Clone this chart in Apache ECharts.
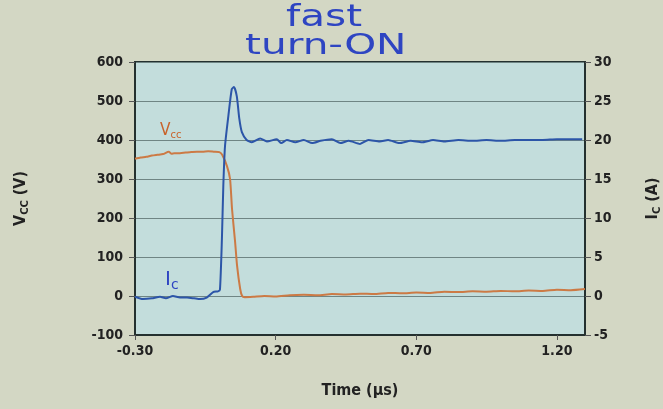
<!DOCTYPE html>
<html>
<head>
<meta charset="utf-8">
<script src="https://cdn.jsdelivr.net/npm/echarts@6/dist/echarts.min.js"></script>
<style>
  html, body { margin: 0; padding: 0; background: #d3d7c4; }
  #chart { width: 663px; height: 409px; }
</style>
</head>
<body>
<div id="chart"></div>
<script>
// time axis ticks (µs)
let timeTicks = [-0.30, 0.20, 0.70, 1.20];

// V_CC trace (left axis, volts)
let vccTime = [-0.30, -0.28, -0.26, -0.24, -0.22, -0.20, -0.18, -0.17, -0.16, -0.14, -0.12, -0.10, -0.08, -0.06, -0.04, -0.02, 0.00, 0.010,
    0.027, 0.038, 0.045, 0.056, 0.063, 0.074, 0.081, 0.09, 0.12, 0.16, 0.20, 0.25, 0.30, 0.35, 0.40, 0.45, 0.50, 0.55, 0.60,
    0.65, 0.70, 0.75, 0.80, 0.85, 0.90, 0.95, 1.00, 1.05, 1.10, 1.15, 1.20, 1.25, 1.30];
let vccVals = [352, 355, 357, 360, 362, 364, 370, 365, 366, 366, 368, 369, 370, 370, 371, 370, 369, 362,
    333, 300, 223, 138, 77, 18, 0, -3, -2, 0, -1, 2, 3, 2, 5, 4, 6, 5, 8,
    7, 9, 8, 11, 10, 12, 11, 13, 12, 14, 13, 16, 15, 18];

// I_C trace (right axis, amps)
let icTime = [-0.30, -0.272, -0.24, -0.211, -0.19, -0.165, -0.14, -0.115, -0.09, -0.069, -0.045, -0.022, -0.005, 0.002,
    0.009, 0.014, 0.020, 0.032, 0.044, 0.052, 0.062, 0.071, 0.080, 0.097, 0.115, 0.145, 0.169, 0.204, 0.22, 0.24, 0.27,
    0.30, 0.33, 0.36, 0.40, 0.43, 0.46, 0.50, 0.53, 0.57, 0.60, 0.64, 0.68, 0.72, 0.76, 0.80, 0.85, 0.90, 0.95, 1.00,
    1.05, 1.10, 1.15, 1.20, 1.25, 1.29];
let icVals = [-0.1, -0.4, -0.3, -0.1, -0.3, 0.0, -0.2, -0.2, -0.3, -0.4, -0.2, 0.5, 0.6, 0.8,
    7.3, 14.1, 19.2, 23.1, 26.5, 26.8, 25.6, 22.7, 21.0, 20.0, 19.7, 20.2, 19.8, 20.1, 19.6, 20.0, 19.7,
    20.0, 19.6, 19.9, 20.1, 19.6, 19.9, 19.5, 20.0, 19.8, 20.0, 19.6, 19.9, 19.7, 20.0, 19.8, 20.0, 19.9, 20.0, 19.9,
    20.0, 20.0, 20.0, 20.1, 20.1, 20.1];

let vccData = vccTime.map(function (t, i) { return [t, vccVals[i]]; });
let icData = icTime.map(function (t, i) { return [t, icVals[i]]; });

let font = "'Liberation Sans Narrow', 'DejaVu Sans Condensed', sans-serif";
let inkBlue = '#2e45c2';
let tickFont = { fontFamily: font, fontSize: 14, fontWeight: 'bold', color: '#222' };

let nameRich = {
    a: { fontFamily: font, fontSize: 16, fontWeight: 'bold', color: '#222', lineHeight: 20, verticalAlign: 'middle' },
    b: { fontFamily: font, fontSize: 11, fontWeight: 'bold', color: '#222', lineHeight: 20, verticalAlign: 'bottom' }
};

let myChart = echarts.init(document.getElementById('chart'));
let option = {
    backgroundColor: '#d3d7c4',
    animation: false,
    grid: {
        left: 135, right: 78, top: 62, bottom: 74,
        outerBoundsMode: 'none',
        containLabel: false,
        show: true,
        backgroundColor: '#c3dddc',
        borderColor: '#24302f',
        borderWidth: 2
    },
    xAxis: {
        type: 'value',
        min: -0.3,
        max: 1.3,
        name: 'Time (µs)',
        nameLocation: 'middle',
        nameGap: 48,
        nameTextStyle: { fontFamily: font, fontSize: 16, fontWeight: 'bold', color: '#222' },
        axisLine: { onZero: false, lineStyle: { color: '#24302f', width: 2 } },
        axisTick: { show: true, customValues: timeTicks, length: 5, lineStyle: { color: '#555' } },
        axisLabel: Object.assign({
            customValues: timeTicks,
            formatter: function (v) { return v.toFixed(2); },
            margin: 9
        }, tickFont),
        splitLine: { show: false }
    },
    yAxis: [
        {
            type: 'value',
            min: -100, max: 600, interval: 100,
            name: '{a|V}{b|CC}{a| (V)}',
            nameLocation: 'middle',
            nameRotate: 90,
            nameGap: 104,
            nameTextStyle: { rich: nameRich },
            axisLine: { show: true, onZero: false, lineStyle: { color: '#24302f', width: 2 } },
            axisTick: { show: true, length: 6, lineStyle: { color: '#555' } },
            axisLabel: Object.assign({ margin: 12 }, tickFont),
            splitLine: { show: true, lineStyle: { color: '#6f8584', width: 1 } }
        },
        {
            type: 'value',
            min: -5, max: 30, interval: 5,
            position: 'right',
            name: '{a|I}{b|C}{a| (A)}',
            nameLocation: 'middle',
            nameRotate: 90,
            nameGap: 58,
            nameTextStyle: { rich: nameRich },
            axisLine: { show: true, onZero: false, lineStyle: { color: '#24302f', width: 2 } },
            axisTick: { show: true, length: 6, lineStyle: { color: '#555' } },
            axisLabel: Object.assign({ margin: 9 }, tickFont),
            splitLine: { show: false }
        }
    ],
    graphic: [
        { type: 'text', x: 286, y: 3, scaleX: 1.35, style: { text: 'fast', fontFamily: 'DejaVu Sans', fontSize: 30, fill: inkBlue } },
        { type: 'text', x: 245, y: 33, scaleX: 1.45, style: { text: 'turn-ON', fontFamily: 'DejaVu Sans', fontSize: 28, fill: inkBlue } },
        { type: 'text', x: 160, y: 121, style: { text: '{a|V}{b|cc}', rich: {
            a: { fontFamily: font, fontSize: 17, fill: '#c8622a', verticalAlign: 'middle', lineHeight: 20 },
            b: { fontFamily: font, fontSize: 11, fill: '#c8622a', verticalAlign: 'bottom', lineHeight: 20 } } } },
        { type: 'text', x: 165, y: 268, style: { text: '{a|I}{b|c}', rich: {
            a: { fontFamily: 'DejaVu Sans', fontSize: 20, fill: inkBlue, verticalAlign: 'middle', lineHeight: 24 },
            b: { fontFamily: 'DejaVu Sans', fontSize: 14, fill: inkBlue, verticalAlign: 'bottom', lineHeight: 24 } } } }
    ],
    series: [
        {
            name: 'Vcc',
            type: 'line',
            yAxisIndex: 0,
            data: vccData,
            showSymbol: false,
            smooth: 0.2,
            lineStyle: { color: '#cc7a45', width: 2 }
        },
        {
            name: 'Ic',
            type: 'line',
            yAxisIndex: 1,
            data: icData,
            showSymbol: false,
            smooth: 0.2,
            lineStyle: { color: '#2c55a8', width: 2 }
        }
    ]
};
myChart.setOption(option);
</script>
</body>
</html>
